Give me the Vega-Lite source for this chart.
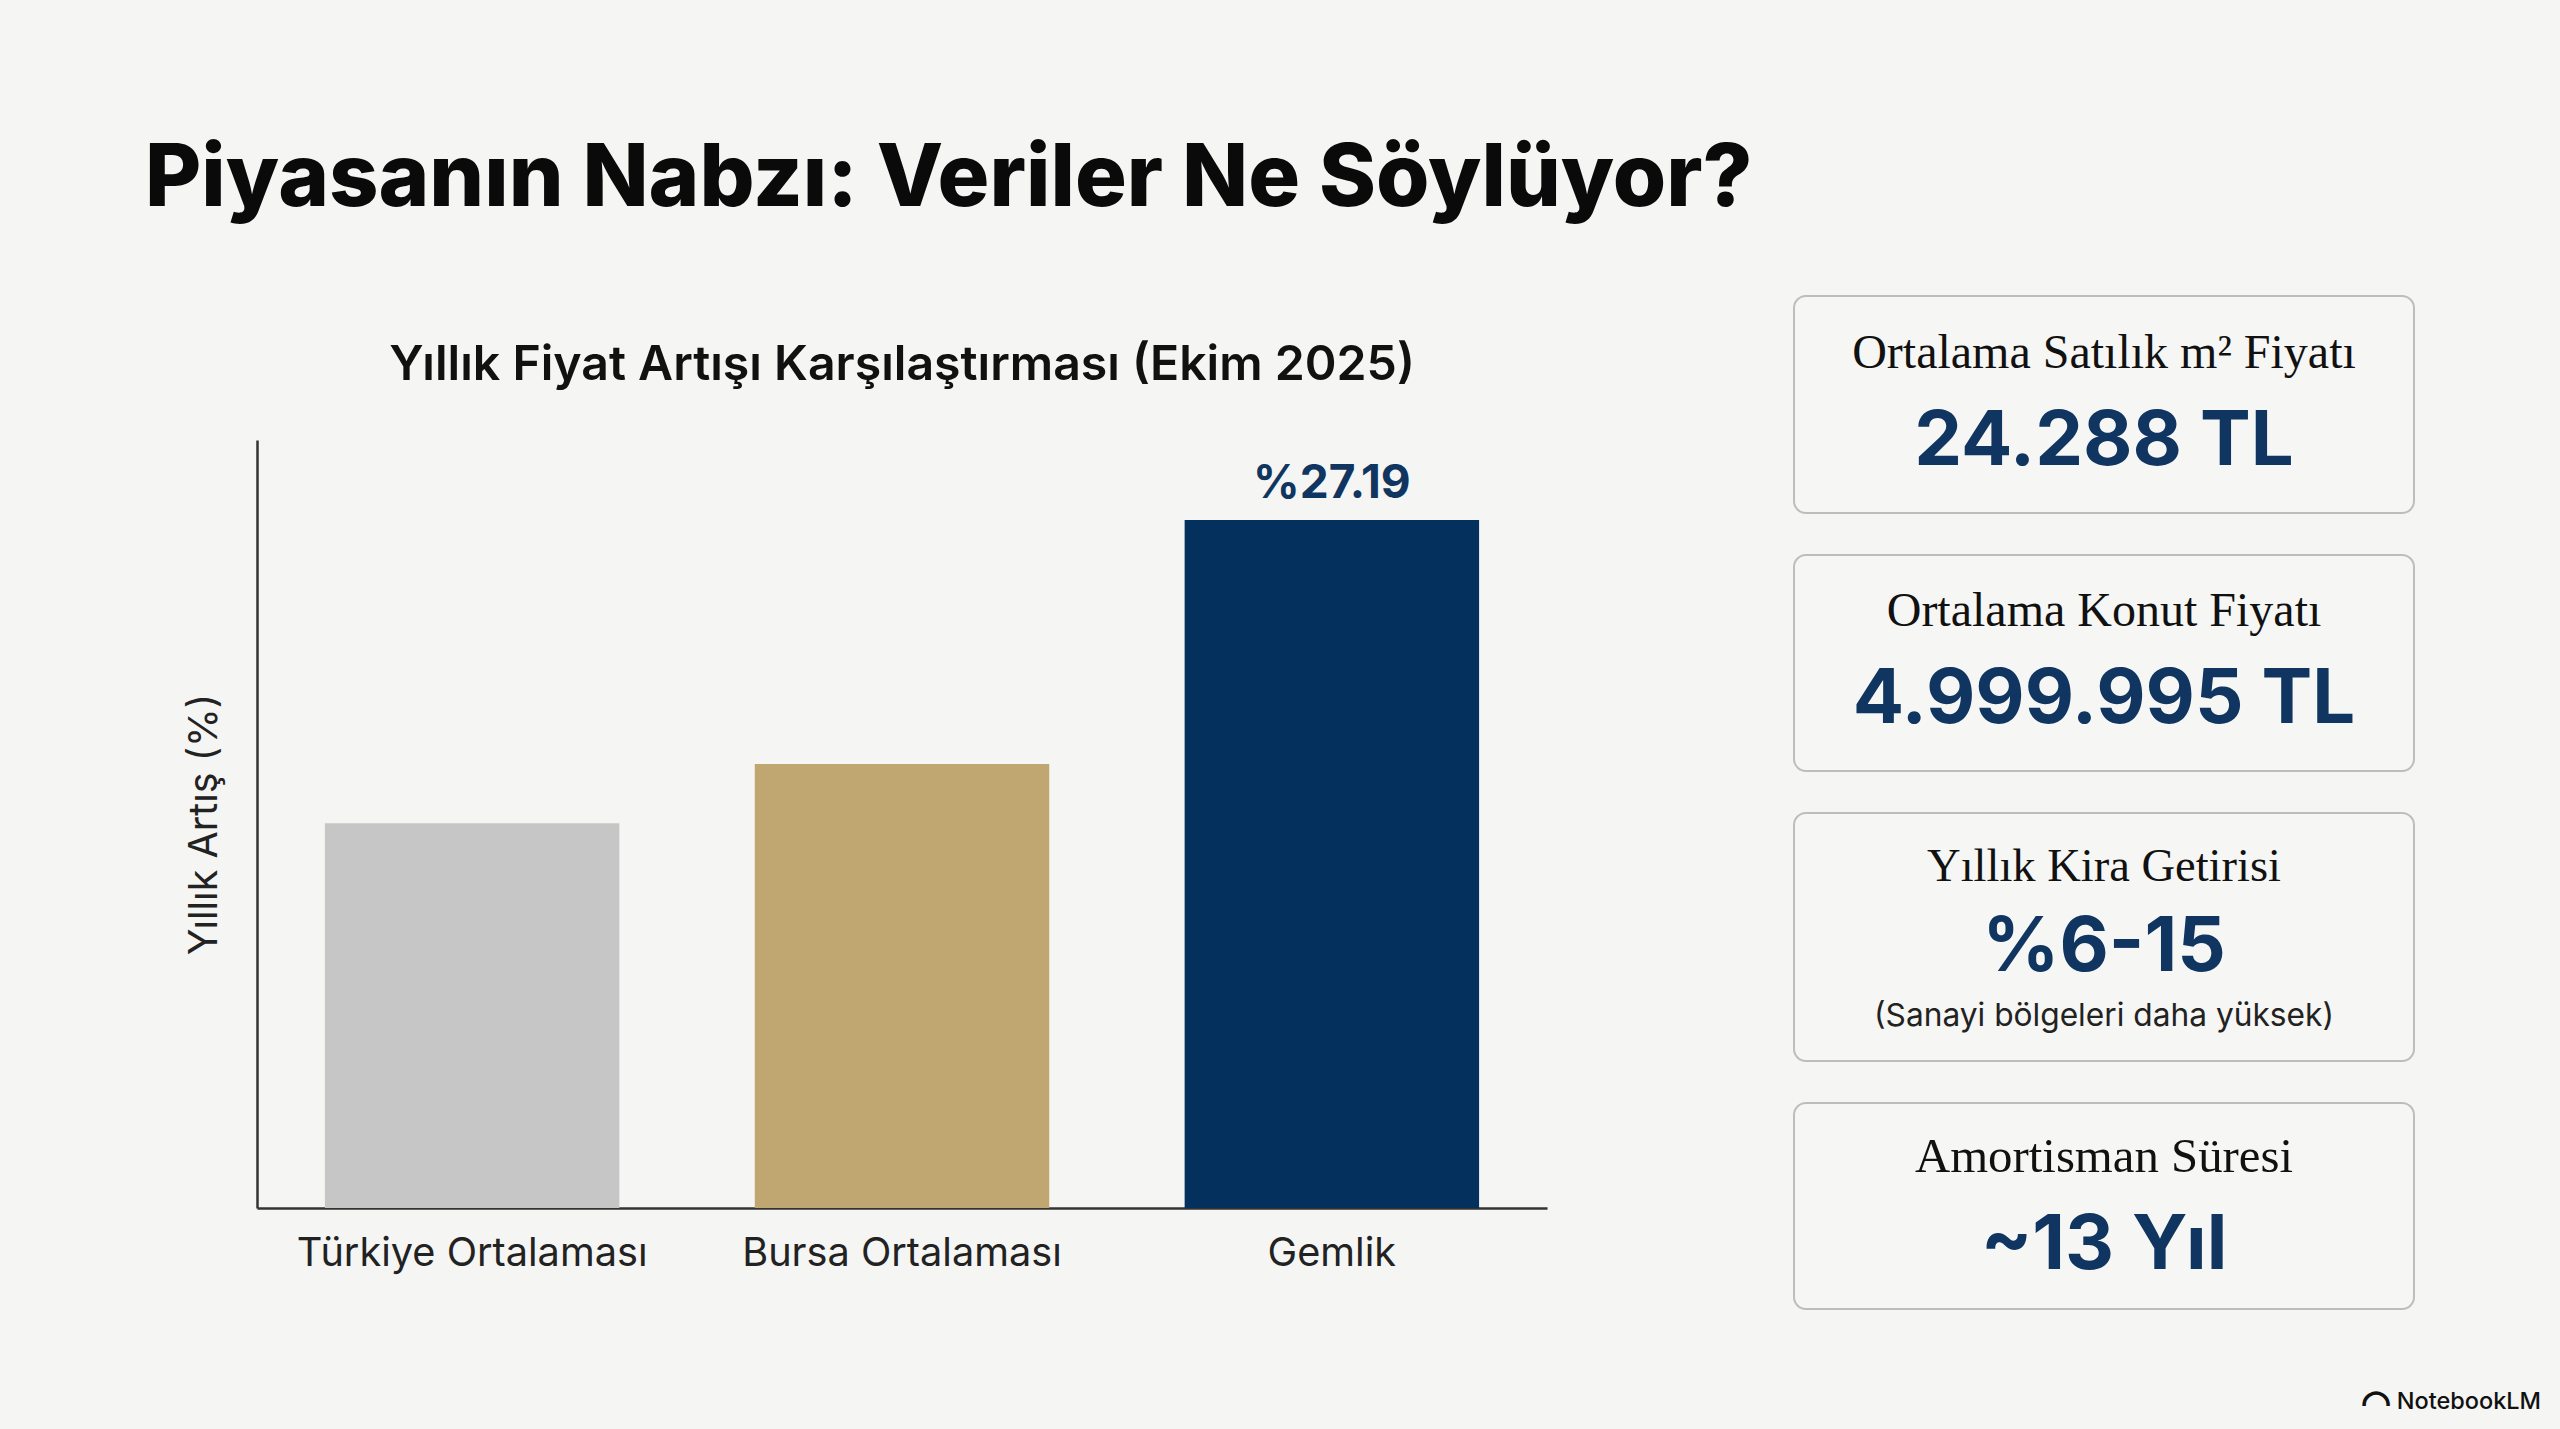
{
"$schema":"https://vega.github.io/schema/vega-lite/v6.json",
"background":"#F5F5F3",
"padding":{"left":145,"top":136,"right":20,"bottom":20},
"title":{"text":"Piyasanın Nabzı: Veriler Ne Söylüyor?","anchor":"start","font":"Inter","fontSize":86.4,"fontWeight":800,"color":"#0A0A0A","offset":71,"frame":"bounds","dx":-39},
"datasets":{
"artis":[{"bolge":"Türkiye Ortalaması","artis":15.2},{"bolge":"Bursa Ortalaması","artis":17.55},{"bolge":"Gemlik","artis":27.19,"etiket":"%27.19"}],
"grafik":[{"baslik":"Yıllık Fiyat Artışı Karşılaştırması (Ekim 2025)"}],
"kartlar":[
{"kart":"m2","baslik":"Ortalama Satılık m² Fiyatı","deger":"24.288 TL"},
{"kart":"konut","baslik":"Ortalama Konut Fiyatı","deger":"4.999.995 TL"},
{"kart":"kira","baslik":"Yıllık Kira Getirisi","deger":"%6-15","not":"(Sanayi bölgeleri daha yüksek)"},
{"kart":"amortisman","baslik":"Amortisman Süresi","deger":"~13 Yıl"}],
"marka":[{"ad":"NotebookLM"}]
},
"config":{"font":"Inter","concat":{"spacing":0}},
"spacing":59,
"vconcat":[
{"hconcat":[
 {"spacing":0,"vconcat":[
 {"width":1290,"height":144,"data":{"name":"grafik"},"view":{"stroke":null},
  "mark":{"type":"text","font":"Inter","fontSize":48.2,"fontWeight":600,"color":"#111111","dy":-2},
  "encoding":{"text":{"field":"baslik"}}},
 {"width":1290,"height":768,"data":{"name":"artis"},
  "view":{"stroke":null},
  "layer":[
   {"mark":{"type":"bar"},
    "encoding":{
     "x":{"field":"bolge","type":"nominal","sort":null,"scale":{"paddingInner":0.315,"paddingOuter":0.158},
       "axis":{"title":null,"labelAngle":0,"labelFont":"Inter","labelFontSize":39.7,"labelLimit":600,"labelColor":"#222222","labelPadding":26,"ticks":false,"domainColor":"#333333","domainWidth":2.5,"grid":false}},
     "y":{"field":"artis","type":"quantitative","scale":{"domain":[0,30.35],"nice":false},
       "axis":{"title":"Yıllık Artış (%)","titleFont":"Inter","titleFontSize":39.5,"titleFontWeight":400,"titleColor":"#222222","titlePadding":33,"labels":false,"ticks":false,"grid":false,"domainColor":"#333333","domainWidth":2.5}},
     "color":{"field":"bolge","type":"nominal","sort":null,"legend":null,"scale":{"domain":["Türkiye Ortalaması","Bursa Ortalaması","Gemlik"],"range":["#C6C6C6","#C0A670","#04305E"]}}}},
   {"transform":[{"filter":"datum.bolge === 'Gemlik'"}],
    "mark":{"type":"text","font":"Inter","fontSize":46,"fontWeight":700,"color":"#0F3560","baseline":"bottom","dy":-12},
    "encoding":{"x":{"field":"bolge","type":"nominal","sort":null},"y":{"field":"artis","type":"quantitative"},"text":{"field":"etiket"}}}
  ]}
 ]},
 {"spacing":40,"vconcat":[
  {"width":620,"height":217,"data":{"name":"kartlar"},"transform":[{"filter":"datum.kart === 'm2'"}],
   "view":{"fill":"#F6F6F4","stroke":"#BDBDBD","strokeWidth":2,"cornerRadius":12},
   "layer":[
    {"mark":{"type":"text","font":"Liberation Serif","fontSize":48,"color":"#111111","dy":-51},"encoding":{"text":{"field":"baslik"}}},
    {"mark":{"type":"text","font":"Inter","fontSize":76,"fontWeight":700,"color":"#0F3560","dy":37},"encoding":{"text":{"field":"deger"}}}]},
  {"width":620,"height":216,"data":{"name":"kartlar"},"transform":[{"filter":"datum.kart === 'konut'"}],
   "view":{"fill":"#F6F6F4","stroke":"#BDBDBD","strokeWidth":2,"cornerRadius":12},
   "layer":[
    {"mark":{"type":"text","font":"Liberation Serif","fontSize":48,"color":"#111111","dy":-51},"encoding":{"text":{"field":"baslik"}}},
    {"mark":{"type":"text","font":"Inter","fontSize":76,"fontWeight":700,"color":"#0F3560","dy":37},"encoding":{"text":{"field":"deger"}}}]},
  {"width":620,"height":248,"data":{"name":"kartlar"},"transform":[{"filter":"datum.kart === 'kira'"}],
   "view":{"fill":"#F6F6F4","stroke":"#BDBDBD","strokeWidth":2,"cornerRadius":12},
   "layer":[
    {"mark":{"type":"text","font":"Liberation Serif","fontSize":46.5,"color":"#111111","dy":-70},"encoding":{"text":{"field":"baslik"}}},
    {"mark":{"type":"text","font":"Inter","fontSize":76,"fontWeight":700,"color":"#0F3560","dy":11},"encoding":{"text":{"field":"deger"}}},
    {"mark":{"type":"text","font":"Inter","fontSize":31.7,"color":"#222222","dy":79},"encoding":{"text":{"field":"not"}}}]},
  {"width":620,"height":206,"data":{"name":"kartlar"},"transform":[{"filter":"datum.kart === 'amortisman'"}],
   "view":{"fill":"#F6F6F4","stroke":"#BDBDBD","strokeWidth":2,"cornerRadius":12},
   "layer":[
    {"mark":{"type":"text","font":"Liberation Serif","fontSize":48.8,"color":"#111111","dy":-49},"encoding":{"text":{"field":"baslik"}}},
    {"mark":{"type":"text","font":"Inter","fontSize":76,"fontWeight":700,"color":"#0F3560","dy":40},"encoding":{"text":{"field":"deger"}}}]}
 ]}
],"spacing":246},
{"width":2284,"height":40,"data":{"name":"marka"},"view":{"stroke":null},
 "layer":[
  {"mark":{"type":"text","font":"Inter","fontSize":23.5,"fontWeight":500,"color":"#111111","align":"right","dx":1142,"dy":13},"encoding":{"text":{"field":"ad"}}},
  {"mark":{"type":"text","font":"DejaVu Sans","fontSize":34,"fontWeight":700,"color":"#111111","stroke":"#111111","strokeWidth":1.5,"align":"center","dx":977,"dy":15,"text":"◠"},"encoding":{}}
 ]}
]}
